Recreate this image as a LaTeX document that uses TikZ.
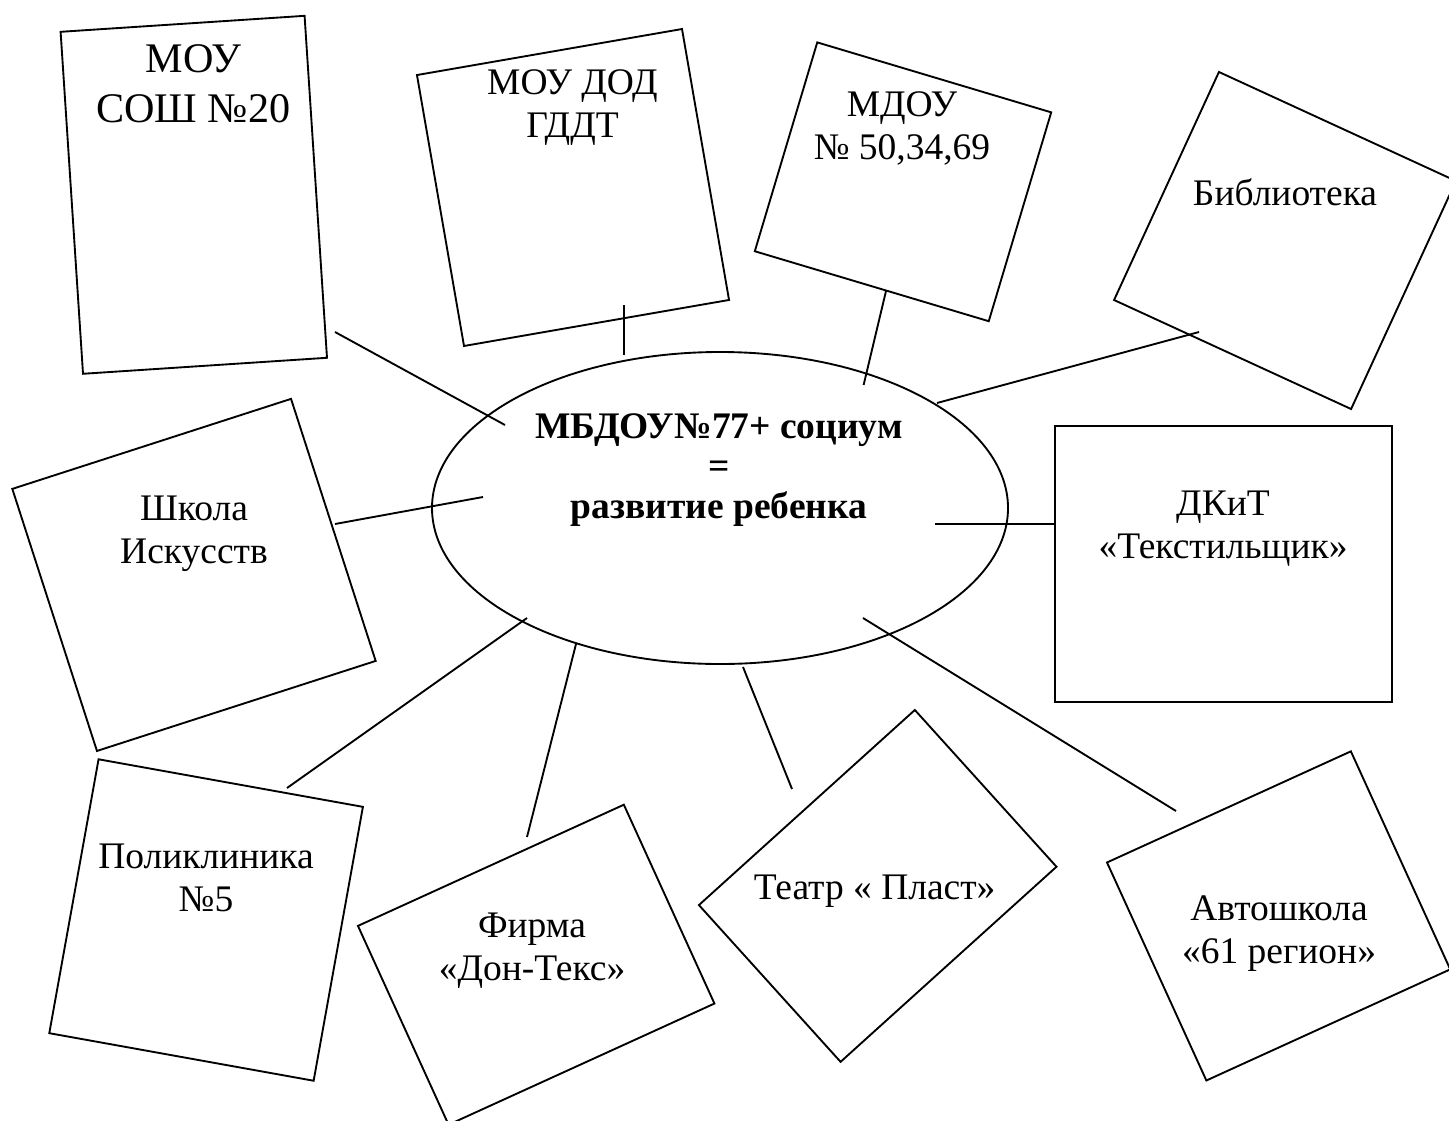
\documentclass[tikz,border=0pt]{standalone}
\usepackage{fontspec}
\setmainfont{Liberation Serif}
\usetikzlibrary{shapes.geometric}
\tikzset{
  box/.style={draw, inner sep=0pt, outer sep=0pt},
  txt/.style={align=center, inner sep=0pt, anchor=north, font=\fontsize{16}{18.4}\selectfont},
}

\begin{document}
\begin{tikzpicture}[x=.015cm, y=-.015cm, line width=.8pt]
  \useasboundingbox (0,0) rectangle (1449,1120);
  \node[box, ellipse, minimum width=576*.015cm, minimum height=312*.015cm] (core) at (720,508) {};
  \node[txt, font=\bfseries\fontsize{16}{17}\selectfont] (core-txt) at (719,413)
    {МБДОУ№77+ социум\\=\\развитие ребенка};
  \foreach \n/\cx/\cy/\a/\w/\h in {%
    sosh/193.8/194.8/3.75/244.5/342.7,
    gddt/573/187.5/9.85/269/275,
    mdou/903/181.8/-16.65/244.2/218,
    bibl/1285/240.5/-24.7/260.9/251,
    dkit/1223.3/563.8/0/336.7/275.7,
    shkola/194/574.9/17.9/292.9/275.4,
    poli/206.1/920/-10.2/268.6/278.3,
    firma/536.2/964.7/24.5/292.2/218.5,
    teatr/877.7/885.9/42.1/291/211.3,
    avto/1278.6/915.9/24.5/268/239.6}{%
      \node[box, rotate=\a, minimum width=\w*.015cm, minimum height=\h*.015cm] (\n) at (\cx,\cy) {};
  }
  \node[txt, font=\fontsize{18}{21.3}\selectfont] (sosh-txt) at (193.3,44) {МОУ\\СОШ №20};
  \node[txt] (gddt-txt) at (572.5,69) {МОУ ДОД\\ГДДТ};
  \node[txt] (mdou-txt) at (902,91) {МДОУ\\№ 50,34,69};
  \node[txt] (bibl-txt) at (1285,177.5) {Библиотека};
  \node[txt] (dkit-txt) at (1223,490) {ДКиТ\\«Текстильщик»};
  \node[txt] (shkola-txt) at (194,495) {Школа\\Искусств};
  \node[txt] (poli-txt) at (206,843) {Поликлиника\\№5};
  \node[txt] (firma-txt) at (532,912) {Фирма\\«Дон-Текс»};
  \node[txt] (teatr-txt) at (874.7,874) {Театр « Пласт»};
  \node[txt] (avto-txt) at (1279,895) {Автошкола\\«61 регион»};
  \foreach \n/\x/\y in {%
    s1/335/332, e1/505/425,
    s2/623.6/305, e2/623.6/355,
    s3/886/291, e3/863.6/385,
    s4/1199/332, e4/937/403,
    s5/1055/524, e5/935/524,
    s6/335/524, e6/483/497,
    s7/287/788, e7/527/618,
    s8/527/837, e8/576/644,
    s9/792/789, e9/743/667,
    s10/1176/811, e10/863/618}{%
      \coordinate (\n) at (\x,\y);
  }
  \foreach \i in {1,...,10}{%
    \draw (s\i) -- (e\i);
  }
\end{tikzpicture}
\end{document}
